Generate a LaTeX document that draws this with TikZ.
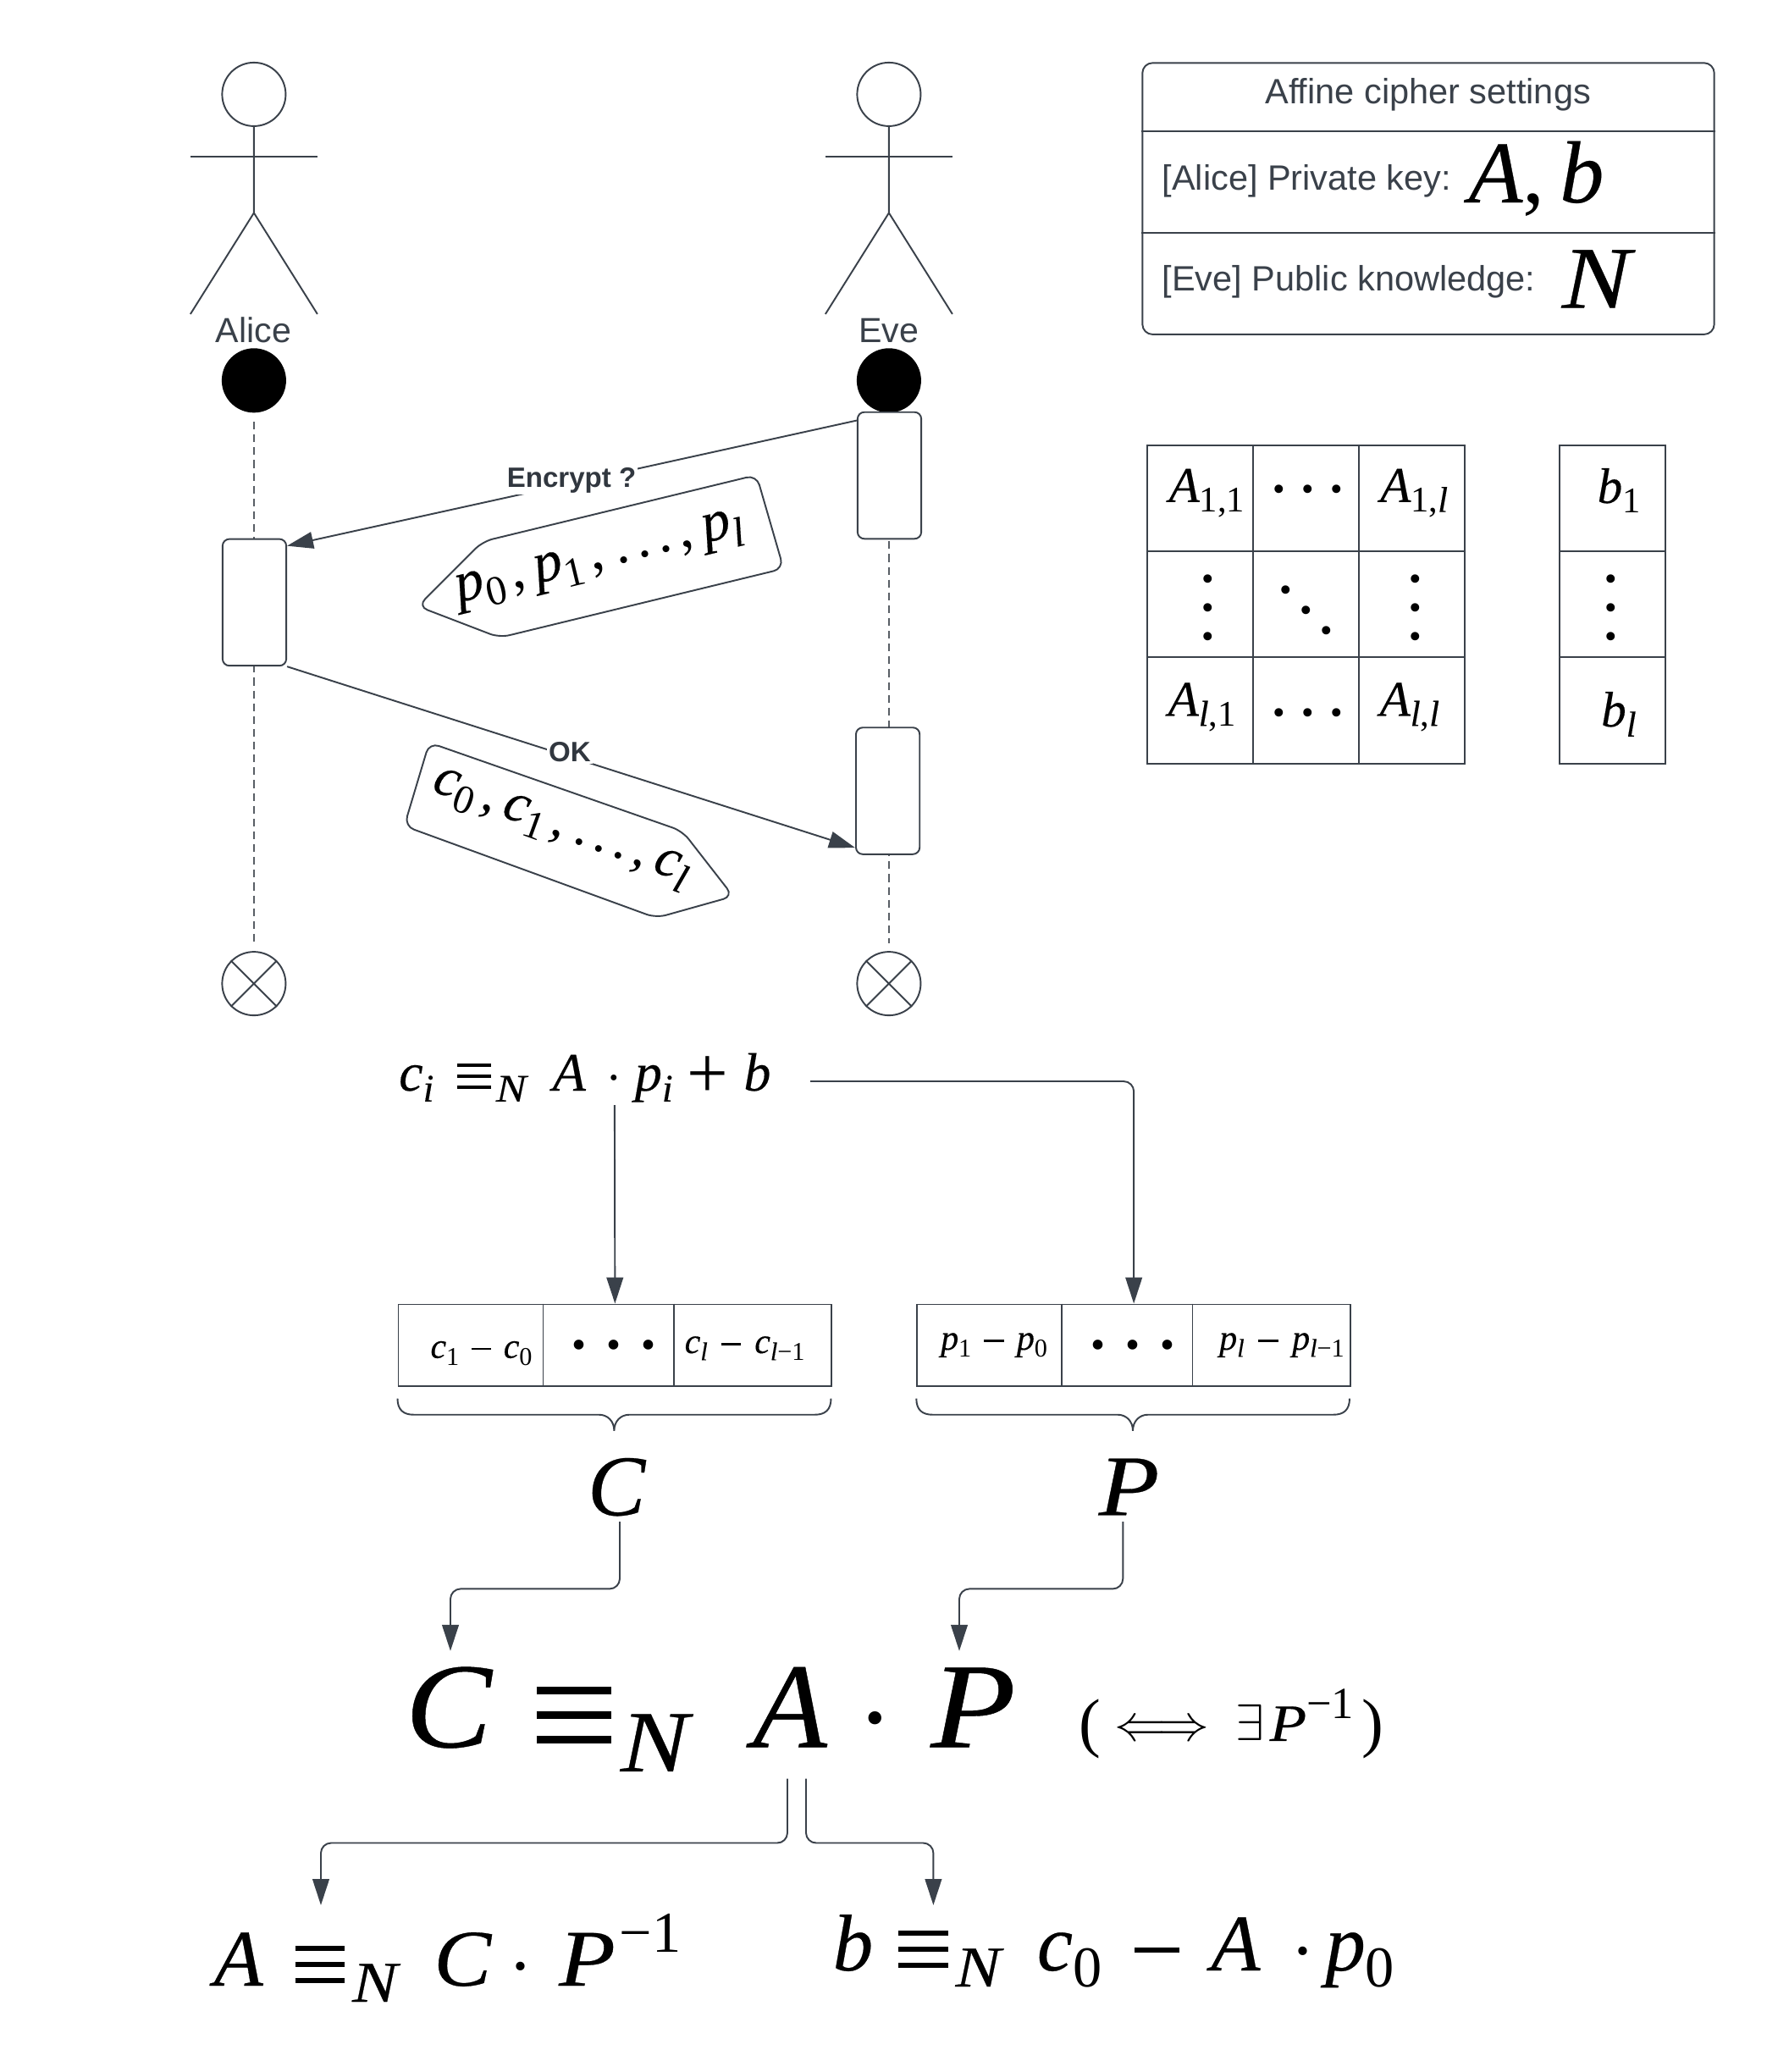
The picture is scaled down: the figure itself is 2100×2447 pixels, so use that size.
\documentclass[tikz,border=0pt]{standalone}
\usepackage{fontspec}
\usepackage{graphicx}
\usetikzlibrary{arrows.meta,calc}
\setmainfont{Liberation Serif}[ItalicFeatures={FakeBold=0.3}]
\newfontfamily\lsans{Liberation Sans}
\definecolor{ink}{HTML}{3A414A}
\newlength\pxu \setlength\pxu{.01cm}
\newcommand\kpx[1]{\hspace*{#1\pxu}}
\newcommand\iv[1]{{\itshape #1}}
\newcommand\iN{\scalebox{1.17}[1]{\itshape N}}
\newcommand\iP{\scalebox{1.15}[1]{\itshape P}}
\newcommand\iC{\scalebox{1.07}[1]{\itshape C}}
\newcommand\sbs[1]{\raisebox{-.2em}{\scalebox{.72}{#1}}}
\newcommand\sps[1]{\raisebox{.42em}{\scalebox{.72}{#1}}}
\newcommand\eqv{\hbox{\rlap{\rule[.032em]{.615em}{.063em}}\rlap{\rule[.232em]{.615em}{.063em}}\rule[.432em]{.615em}{.063em}}}
\newcommand\tdot{\raisebox{.16em}{\scalebox{.45}{•}}}
\newcommand\mdot{\raisebox{.09em}{\scalebox{.45}{•}}}
\newcommand\mminus{\rule[.225em]{.56em}{.06em}}
\newcommand\actor[2]{%
  \node[headc] (#1head) at (#2,111.4) {};
  \coordinate (#1hip) at (#2,251.4);
  \draw[ln] (#1head.south) -- (#1hip) -- ++(-75,119.5);
  \draw[ln] (#1hip) -- ++(75,119.5);
  \draw[ln] ($(#1hip)+(-75,-66)$) -- ++(150,0);
}
\newcommand\bracepath[3]{% left, right, mid
  \draw[ln] (#1,1651.6) .. controls (#1,1665) and (#1+7,1670.7) .. (#1+19,1670.7) -- (#3-18,1670.7)
    .. controls (#3-8,1670.7) and (#3,1678) .. (#3,1689.8)
    .. controls (#3,1678) and (#3+8,1670.7) .. (#3+18,1670.7) -- (#2-19,1670.7)
    .. controls (#2-7,1670.7) and (#2,1665) .. (#2,1651.6);
}
\tikzset{
  ln/.style={draw=ink,line width=.55pt},
  headc/.style={circle,draw=ink,line width=.55pt,minimum size=.75cm,inner sep=0pt},
  startc/.style={circle,fill=black,minimum size=.76cm,inner sep=0pt},
  endc/.style={circle,draw=ink,line width=.55pt,minimum size=.75cm,inner sep=0pt},
  activ/.style={rectangle,draw=ink,line width=.55pt,rounded corners=.08cm,minimum width=.752cm,minimum height=1.495cm,inner sep=0pt,fill=white},
  life/.style={draw=ink!85,line width=.35pt,dash pattern=on 2.6pt off 1.7pt},
  conn/.style={draw=ink,line width=.55pt,-{Triangle[length=8.8pt,width=5.6pt,fill=ink]}},
  elbow/.style={conn,rounded corners=.12cm},
  msg/.style={inner sep=.6pt,fill=white,text=ink!85!black,font=\lsans\bfseries\fontsize{9.4}{11}\selectfont},
  alab/.style={text=ink,font=\lsans\fontsize{11.7}{14}\selectfont},
  stxt/.style={text=ink,font=\lsans\fontsize{11.8}{14}\selectfont,anchor=base west,inner sep=0pt},
  fm/.style={anchor=base west,inner sep=0pt,text=black},
  cell/.style={draw=ink,line width=.55pt,anchor=north west,inner sep=0pt,minimum width=#1},
  cell/.default=1.25cm,
  mcell/.style={cell=1.25cm,minimum height=1.252cm},
  ddd/.style={anchor=base,inner sep=0pt,text=black,font=\fontsize{26.2}{9.67}\selectfont},
  vdd/.style={anchor=center,align=center,inner sep=0pt,text=black,font=\fontsize{26.2}{9.67}\selectfont},
  tdd/.style={anchor=base,inner sep=0pt,text=black,font=\fontsize{30.7}{34}\selectfont},
  cellf/.style={fm,font=\fontsize{16.8}{20}\selectfont},
  tf/.style={fm,font=\fontsize{11.95}{14}\selectfont},
  tagf/.style={text=black,font=\fontsize{19.3}{22}\selectfont},
}
\begin{document}
\begin{tikzpicture}[x=.01cm,y=-.01cm]
\useasboundingbox (0,0) rectangle (2100,2447);
\fill[white] (0,0) rectangle (2100,2447);

% actors
\actor{a}{299.9}
\actor{e}{1049.9}
\node[alab,anchor=base] (alice) at (299.5,404) {Alice};
\node[alab,anchor=base] (eve) at (1049.5,404) {Eve};
\node[startc] (astart) at (299.9,449.3) {};
\node[startc] (estart) at (1049.9,449.3) {};
\node[endc] (aend) at (299.9,1161.6) {};
\node[endc] (eend) at (1049.9,1161.6) {};
\draw[ln] (aend.45) -- (aend.225) (aend.135) -- (aend.315);
\draw[ln] (eend.45) -- (eend.225) (eend.135) -- (eend.315);

% lifelines
\draw[life] ($(astart.south)+(0,10)$) -- ($(aend.north)+(0,-9)$);
\draw[life] (estart.south) -- ($(eend.north)+(0,-9)$);

% activations
\node[activ] (abox) at (300.5,711.4) {};
\node[activ] (ebox1) at (1050.5,561.5) {};
\node[activ] (ebox2) at (1048.6,934) {};

% messages
\coordinate (m1s) at ($(ebox1.north west)+(0,10.8)$);
\coordinate (m1e) at ($(abox.north east)+(0,9)$);
\draw[conn] (m1s) -- (m1e);
\node[msg] (enc) at (675,567) {Encrypt ?};
\draw[conn] (abox.south east) -- ($(ebox2.south west)+(0,-8.6)$);
\node[msg] (ok) at (673,888.5) {OK};

% plaintext / ciphertext tags
\draw[ln,rounded corners=.12cm] (893.5,561) -- (925.5,671.5) -- (590,753) -- (493.5,716) -- (570,639.5) -- cycle;
\node[tagf,rotate=13.6] (ptag) at (708.5,662) {\iv{p}\sbs{0}\kpx{8},\kpx{12}\iv{p}\sbs{1}\kpx{8},\kpx{14}.\kpx{9}.\kpx{9}.\kpx{9},\kpx{12}\iv{p}\sbs{\iv{l}}};
\draw[ln,rounded corners=.12cm] (507,877) -- (806,981.5) -- (866,1058.5) -- (775,1084) -- (477.5,975.5) -- cycle;
\node[text=black,font=\fontsize{18.8}{22}\selectfont,rotate=-20] (ctag) at (662,980) {\iv{c}\sbs{0}\kpx{8},\kpx{10}\iv{c}\sbs{1}\kpx{8},\kpx{12}.\kpx{8}.\kpx{8}.\kpx{8},\kpx{10}\iv{c}\sbs{\iv{l}}};

% settings
\node[draw=ink,line width=.55pt,rounded corners=.12cm,minimum width=6.75cm,minimum height=3.204cm,inner sep=0pt] (settings) at (1687,234.6) {};
\coordinate (s1) at (0,154.8); \coordinate (s2) at (0,274.8);
\draw[ln] (settings.west |- s1) -- (settings.east |- s1);
\draw[ln] (settings.west |- s2) -- (settings.east |- s2);
\node[text=ink,anchor=base,inner sep=0pt,font=\lsans\fontsize{11.8}{14}\selectfont] (stitle) at (1686.7,122.5) {Affine cipher settings};
\node[stxt] (srow1) at (1372,224) {[Alice] Private key:};
\node[stxt] (srow2) at (1372,343.5) {[Eve] Public knowledge:};
\node[fm,font=\fontsize{29.6}{34}\selectfont] (ab) at (1734,239) {\iv{A}, \kpx{-8}\iv{b}};
\node[fm,font=\fontsize{29.6}{34}\selectfont] (nn) at (1844,363.5) {\iN};

% matrix A and vector b
\foreach \cx/\col in {1354.3/1,1479.3/2,1604.3/3}{
  \foreach \cy/\row in {525/1,650.2/2,775.4/3}{
    \node[mcell] (m\row\col) at (\cx,\cy) {};
  }
}
\foreach \cy/\row in {525/1,650.2/2,775.4/3}{
  \node[mcell] (v\row) at (1841.3,\cy) {};
}
\node[cellf] (a11) at (1380,592.8) {\iv{A}\sbs{1,1}};
\node[cellf] (a1l) at (1629.5,592.8) {\iv{A}\sbs{1,\iv{l}}};
\node[cellf] (al1) at (1379,845.4) {\iv{A}\sbs{\iv{l},1}};
\node[cellf] (all) at (1629,845.4) {\iv{A}\sbs{\iv{l},\iv{l}}};
\node[cellf] (b1) at (1886,594) {\iv{b}\sbs{1}};
\node[cellf] (bl) at (1890.5,858) {\iv{b}\sbs{\iv{l}}};
\node[ddd] (d1) at (1545,606.5) {\tdot\kpx{19.5}\tdot\kpx{19.5}\tdot};
\node[ddd] (d2) at (1545,870.5) {\tdot\kpx{19.5}\tdot\kpx{19.5}\tdot};
\node[vdd] (vd1) at (1426.5,730) {\tdot\\\tdot\\\tdot};
\node[vdd] (vd2) at (1672,730) {\tdot\\\tdot\\\tdot};
\node[vdd] (vd3) at (1902.5,730) {\tdot\\\tdot\\\tdot};
\node[ddd] (dd) at (1542.3,724.8) {\tdot\kpx{9.5}\raisebox{-24\pxu}{\tdot}\kpx{9.5}\raisebox{-48\pxu}{\tdot}};

% affine equation
\node[fm,font=\fontsize{18.2}{22}\selectfont] (eqci) at (470.5,1288) {\iv{c}\sbs{\iv{i}}\kpx{28}\eqv\kpx{6}\sbs{\iN}\kpx{31}\iv{A}\kpx{28}\mdot\kpx{20}\iv{p}\sbs{\iv{i}}\kpx{17}\raisebox{-.14em}{\scalebox{1.35}{+}}\kpx{18}\iv{b}};
\coordinate (eqS) at (725.9,1305);
\coordinate (eqE) at (957.2,1277);

% difference tables
\node[cell=5.115cm,minimum height=.968cm] (tC) at (469.5,1539.5) {};
\node[cell=5.115cm,minimum height=.968cm] (tP) at (1082.3,1539.5) {};
\draw[ln] (641.5,1539.5) -- (641.5,1636.3) (796,1539.5) -- (796,1636.3);
\draw[ln] (1254.4,1539.5) -- (1254.4,1636.3) (1408.5,1539.5) -- (1408.5,1636.3);
\node[tf] (t1) at (507.8,1603.7) {\iv{c}\sbs{1}\kpx{14.5}\mminus\kpx{14.5}\iv{c}\sbs{0}};
\node[tf] (t2) at (808,1598) {\iv{c}\sbs{\iv{l}}\kpx{16}\mminus\kpx{16}\iv{c}\sbs{\iv{l}−1}};
\node[tf] (t3) at (1110.5,1594) {\iv{p}\sbs{1}\kpx{15}\mminus\kpx{15}\iv{p}\sbs{0}};
\node[tf] (t4) at (1439.5,1594) {\iv{p}\sbs{\iv{l}}\kpx{16.5}\mminus\kpx{16.5}\iv{p}\sbs{\iv{l}−1}};
\node[tdd] (tdC) at (725,1621.5) {\tdot\kpx{24}\tdot\kpx{24}\tdot};
\node[tdd] (tdP) at (1338,1621.5) {\tdot\kpx{24}\tdot\kpx{24}\tdot};
\draw[conn] (eqS) -- (tC.north);
\draw[elbow] (eqE) -| (tP.north);
\bracepath{469.5}{981.5}{725.4}
\bracepath{1082.3}{1594}{1338}

\node[fm,font=\fontsize{29}{34}\selectfont] (lC) at (693.5,1789.4) {\iv{C}};
\node[fm,font=\fontsize{29}{34}\selectfont] (lP) at (1297,1789.4) {\iP};

% main equation
\node[fm,font=\fontsize{40.7}{46}\selectfont] (main) at (478,2063.3) {\iC\kpx{53}\eqv\kpx{11}\sbs{\iN}\kpx{76}\iv{A}\kpx{46}\mdot\kpx{54}\iP};
\node[fm,font=\fontsize{17.6}{21}\selectfont] (iff) at (1274,2055.9) {\raisebox{-.08em}{\scalebox{1.25}{(}}\kpx{16}$\Longleftrightarrow$\kpx{32}$\exists$\kpx{6}\iP\raisebox{.42em}{\scalebox{.85}{−1}}\kpx{9}\raisebox{-.08em}{\scalebox{1.25}{)}}};
\coordinate (cOut) at (732,1797);
\coordinate (cIn) at (532,1949.8);
\coordinate (pOut) at (1326.3,1797);
\coordinate (pIn) at (1133,1949.8);
\draw[elbow] (cOut) -- ++(0,79.4) -| (cIn);
\draw[elbow] (pOut) -- ++(0,79.4) -| (pIn);

% results
\node[fm,font=\fontsize{27}{32}\selectfont] (resA) at (252,2345) {\iv{A}\kpx{38}\eqv\kpx{9}\sbs{\iN}\kpx{43}\iC\kpx{27}\mdot\kpx{38}\iP\kpx{5}\sps{−1}};
\node[fm,font=\fontsize{27}{32}\selectfont] (resB) at (983,2327) {\iv{b}\kpx{30}\eqv\kpx{9}\sbs{\iN}\kpx{43}\iv{c}\sbs{0}\kpx{39}\mminus\kpx{37}\iv{A}\kpx{43}\mdot\kpx{19}\iv{p}\sbs{0}};
\coordinate (aOutL) at (930,2100.5);
\coordinate (aOutR) at (952,2100.5);
\coordinate (aInL) at (379,2250);
\coordinate (aInR) at (1102.4,2250);
\draw[elbow] (aOutL) -- ++(0,76) -| (aInL);
\draw[elbow] (aOutR) -- ++(0,76) -| (aInR);
\end{tikzpicture}
\end{document}
